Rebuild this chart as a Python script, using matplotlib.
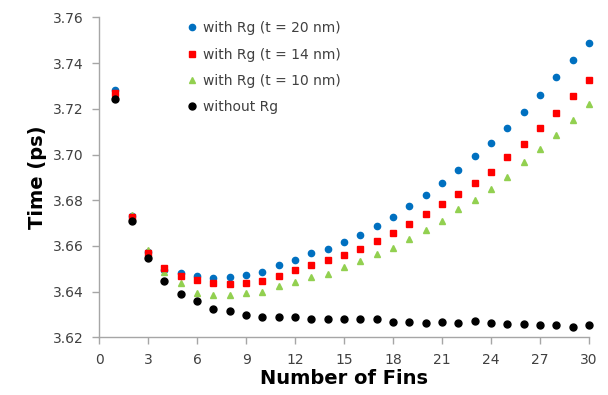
import matplotlib
matplotlib.use("Agg")
import matplotlib.pyplot as plt
import numpy as np

fins = list(range(1, 31))
t20 = [3.7282, 3.6730, 3.6575, 3.6495, 3.6480, 3.6470, 3.6460, 3.6464, 3.6474, 3.6485,
       3.6516, 3.6538, 3.6570, 3.6585, 3.6617, 3.6649, 3.6685, 3.6728, 3.6776, 3.6824,
       3.6875, 3.6933, 3.6993, 3.7050, 3.7114, 3.7187, 3.7261, 3.7340, 3.7414, 3.7489]
t14 = [3.7268, 3.6728, 3.6570, 3.6505, 3.6470, 3.6450, 3.6438, 3.6432, 3.6438, 3.6448,
       3.6470, 3.6496, 3.6516, 3.6538, 3.6559, 3.6587, 3.6623, 3.6655, 3.6697, 3.6739,
       3.6782, 3.6828, 3.6875, 3.6923, 3.6987, 3.7046, 3.7114, 3.7183, 3.7257, 3.7326]
t10 = [3.7260, 3.6735, 3.6580, 3.6484, 3.6436, 3.6392, 3.6384, 3.6384, 3.6394, 3.6400,
       3.6426, 3.6443, 3.6464, 3.6478, 3.6506, 3.6534, 3.6563, 3.6593, 3.6632, 3.6669,
       3.6710, 3.6760, 3.6801, 3.6850, 3.6903, 3.6966, 3.7024, 3.7086, 3.7152, 3.7219]
no_rg = [3.7244, 3.6710, 3.6548, 3.6448, 3.6389, 3.6357, 3.6326, 3.6315, 3.6299, 3.6289,
         3.6289, 3.6289, 3.6279, 3.6279, 3.6279, 3.6279, 3.6279, 3.6268, 3.6268, 3.6263,
         3.6268, 3.6263, 3.6273, 3.6263, 3.6257, 3.6257, 3.6252, 3.6252, 3.6246, 3.6252]

labels = ["with Rg (t = 20 nm)", "with Rg (t = 14 nm)", "with Rg (t = 10 nm)", "without Rg"]
xticks = list(range(0, 31, 3))
yticks = [3.62, 3.64, 3.66, 3.68, 3.70, 3.72, 3.74, 3.76]

plt.rcParams['font.family'] = ['DejaVu Sans']
fig = plt.figure(figsize=(6.08, 3.95), dpi=100)
ax = fig.add_axes([0.163, 0.146, 0.806, 0.810])

ax.plot(fins, t20, 'o', color='#0070C0', ms=4.5, mec='#0070C0', label=labels[0], clip_on=False, zorder=3)
ax.plot(fins, t14, 's', color='#FF0000', ms=5.0, mec='#FF0000', label=labels[1], clip_on=False, zorder=4)
ax.plot(fins, t10, '^', color='#92D050', ms=4.8, mec='#92D050', label=labels[2], clip_on=False, zorder=3.5)
ax.plot(fins, no_rg, 'o', color='#000000', ms=5.0, label=labels[3], clip_on=False, zorder=5)

ax.set_xlim(0, 30)
ax.set_ylim(3.62, 3.76)
ax.set_xticks(xticks)
ax.set_yticks(yticks)
ax.set_yticklabels([f"{v:.2f}" for v in yticks])

for s in ['top', 'right']:
    ax.spines[s].set_visible(False)
for s in ['left', 'bottom']:
    ax.spines[s].set_color('#a6a6a6')
    ax.spines[s].set_linewidth(1.0)
ax.tick_params(axis='both', direction='out', length=5, width=1.0, color='#a6a6a6',
               labelsize=10, labelcolor='#404040', pad=6)

ax.set_xlabel("Number of Fins", fontsize=14, fontweight='bold', labelpad=2)
ax.set_ylabel("Time (ps)", fontsize=14, fontweight='bold', labelpad=4)

leg = ax.legend(loc='upper left', bbox_to_anchor=(0.17, 1.005), frameon=False,
                fontsize=10, handlelength=0.6, handletextpad=0.5, labelspacing=0.88,
                borderaxespad=0.0)
for t in leg.get_texts():
    t.set_color('#404040')

fig.savefig("out.png", dpi=100)
